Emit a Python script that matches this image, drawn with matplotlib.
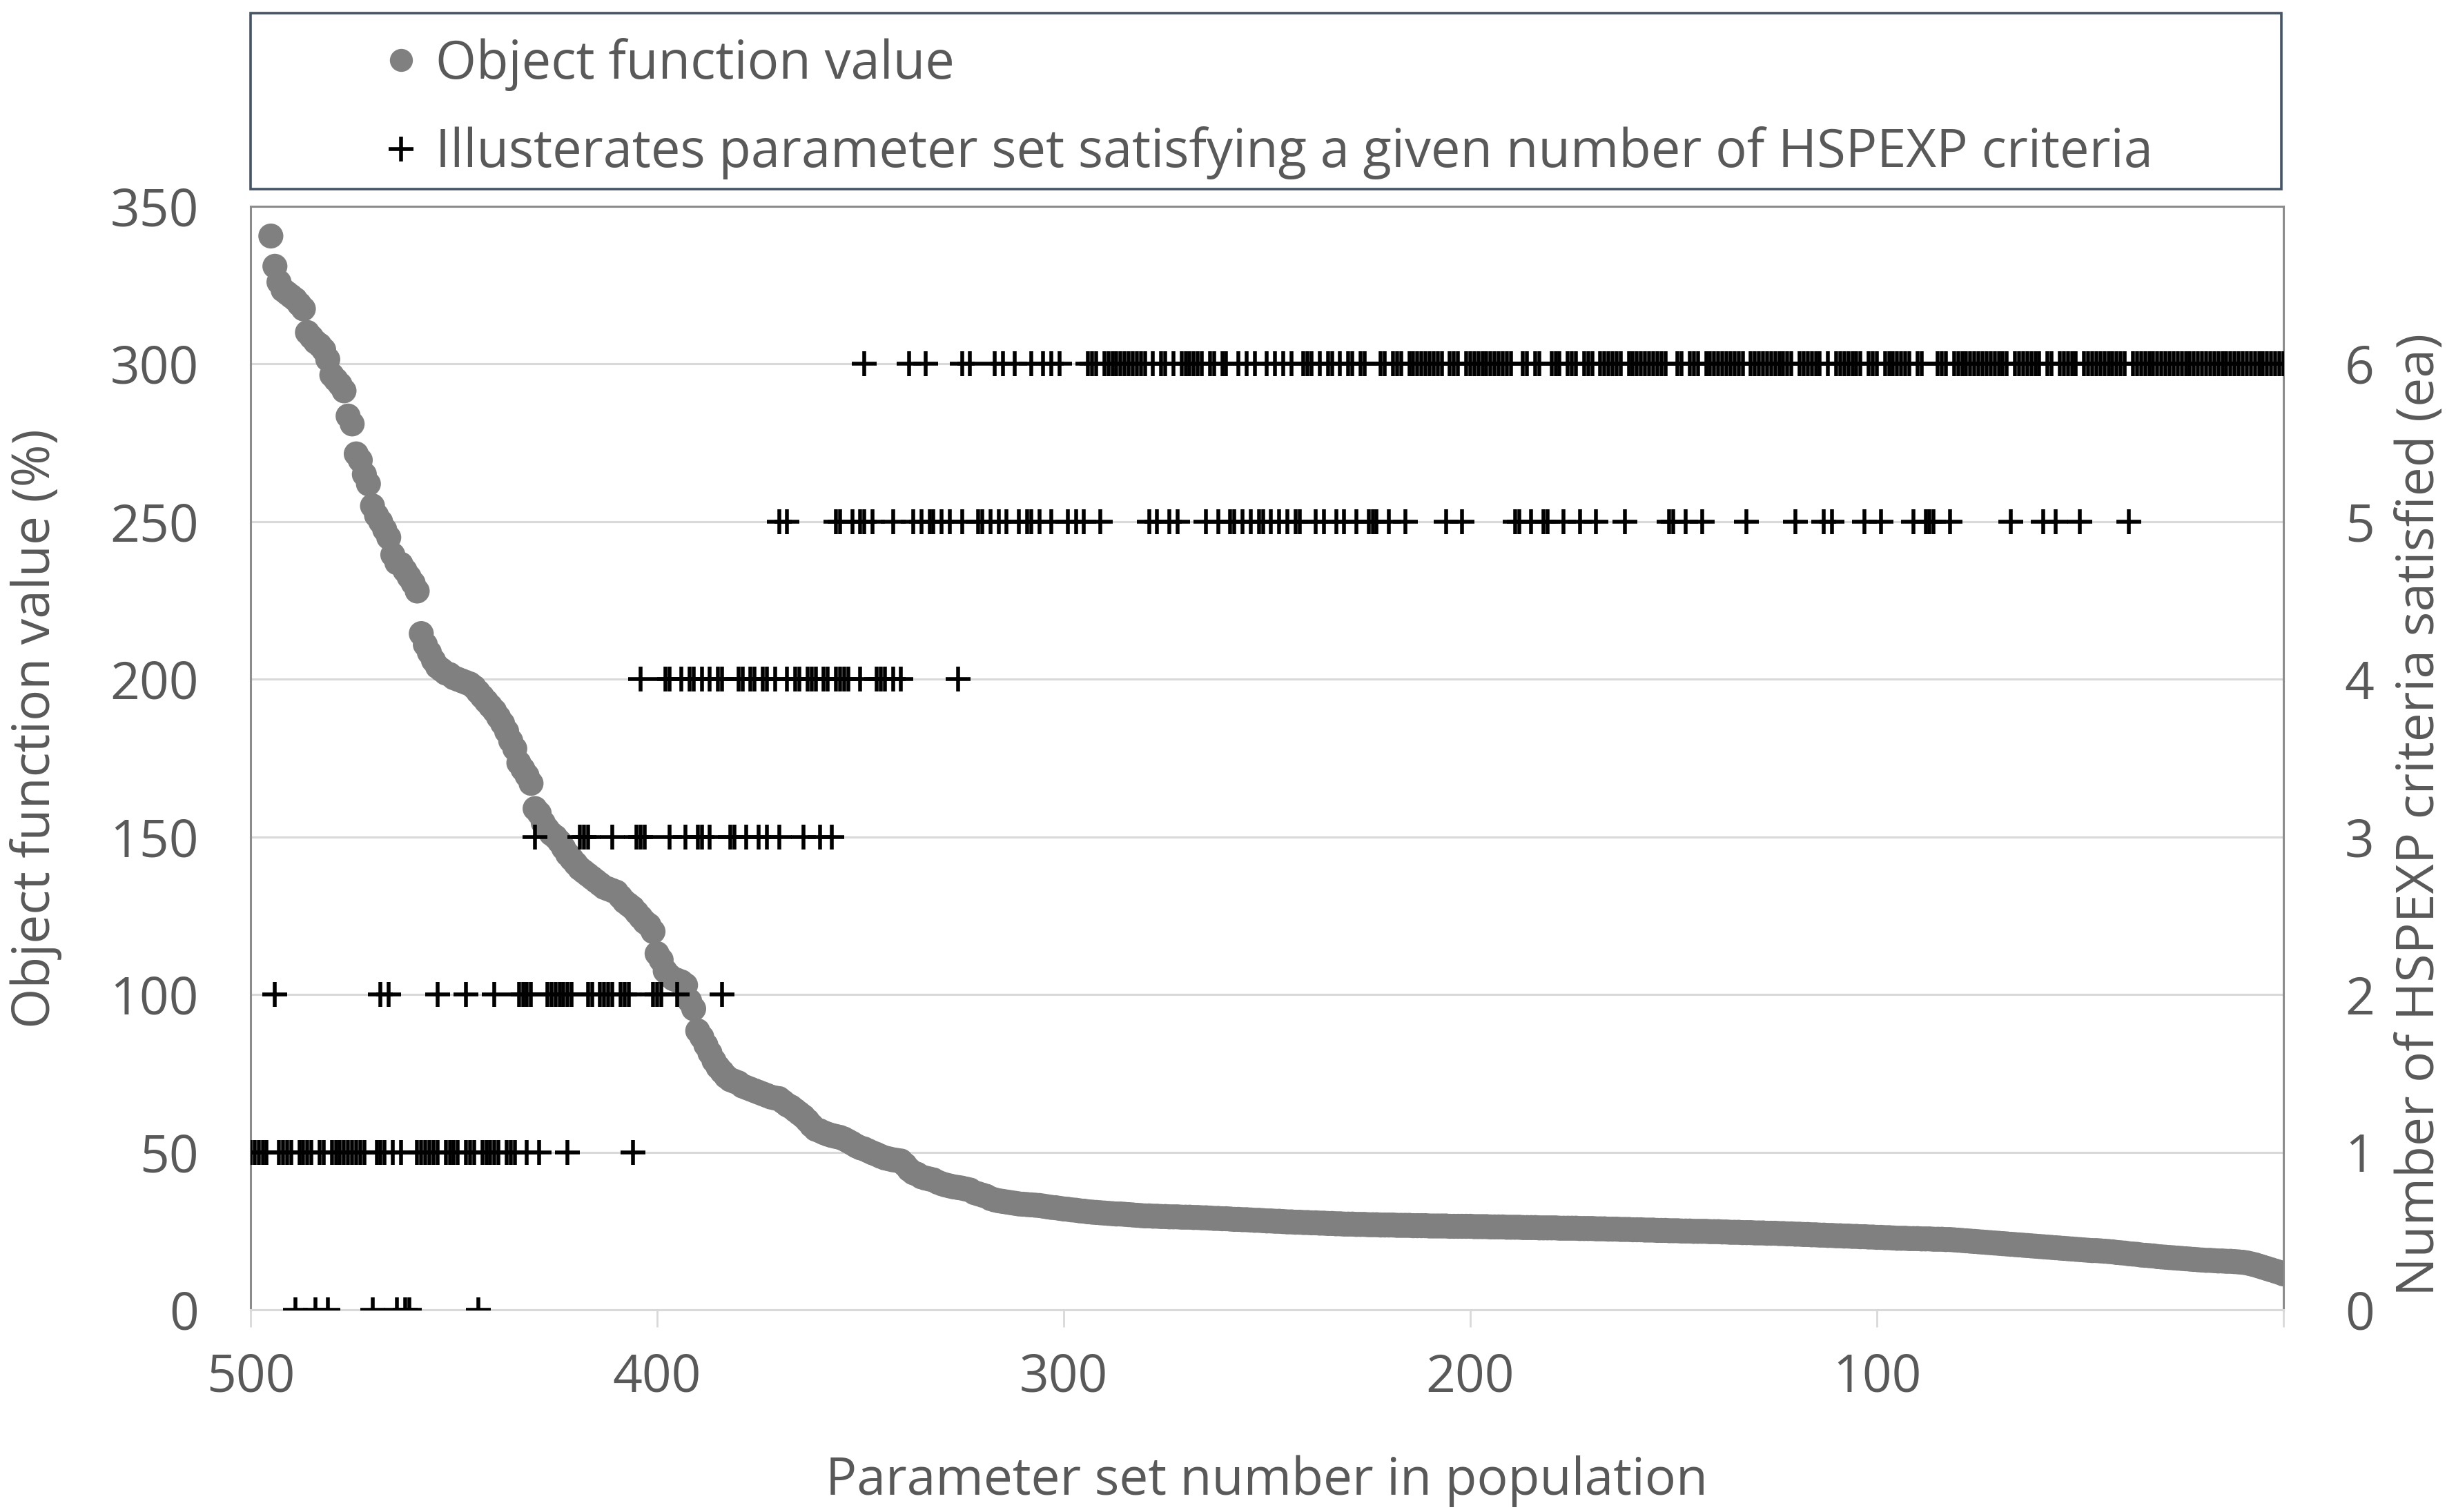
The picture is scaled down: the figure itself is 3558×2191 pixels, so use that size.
import numpy as np
import matplotlib
matplotlib.use("Agg")
import matplotlib.pyplot as plt
from matplotlib.lines import Line2D
from matplotlib.patches import Rectangle

plt.rcParams['font.family'] = ['Open Sans', 'DejaVu Sans']

# parameter set numbers, from 495 down to 0, and their object function values (%)
set_number = np.arange(495, -1, -1)
object_value = [
    340.6, 331.0, 326.0, 323.5, 322.5, 321.5, 320.5, 319.0, 317.5, 310.0,
    308.5, 307.0, 306.0, 304.5, 301.5, 296.5, 295.0, 293.5, 291.5, 283.5,
    281.0, 271.5, 269.5, 265.0, 262.0, 255.0, 252.0, 250.0, 247.5, 245.0,
    239.5, 237.0, 236.5, 234.5, 232.5, 230.5, 228.0, 214.5, 211.0, 208.5,
    206.0, 204.0, 203.0, 202.0, 201.5, 200.5, 200.0, 199.5, 199.0, 198.5,
    197.5, 196.0, 194.5, 193.0, 191.5, 190.0, 188.0, 186.0, 183.5, 180.5,
    178.0, 173.5, 171.5, 169.5, 167.0, 159.0, 157.5, 154.5, 152.5, 151.0,
    150.0, 148.5, 146.5, 144.5, 143.0, 141.5, 140.0, 139.0, 138.0, 137.0,
    136.0, 135.0, 134.0, 133.5, 133.0, 132.5, 131.0, 129.5, 128.5, 127.5,
    126.0, 124.5, 123.0, 122.0, 120.0, 113.0, 111.0, 107.5, 106.0, 105.0,
    104.5, 104.0, 103.0, 98.0, 95.5, 88.5, 86.5, 84.0, 81.5, 79.0,
    77.0, 75.5, 74.0, 73.0, 72.5, 72.0, 71.0, 70.5, 70.0, 69.5,
    69.0, 68.5, 68.0, 67.5, 67.2, 67.0, 66.0, 65.0, 64.3, 63.3,
    62.3, 61.3, 60.0, 58.5, 57.3, 56.8, 56.2, 55.7, 55.3, 55.0,
    54.7, 54.2, 53.5, 52.8, 52.0, 51.4, 51.0, 50.4, 49.8, 49.3,
    48.7, 48.2, 47.9, 47.6, 47.4, 47.2, 46.0, 44.5, 43.5, 43.0,
    42.2, 41.8, 41.5, 41.2, 40.5, 40.0, 39.6, 39.3, 39.0, 38.8,
    38.6, 38.3, 38.0, 37.2, 36.8, 36.4, 36.0, 35.3, 34.9, 34.6,
    34.4, 34.2, 34.0, 33.8, 33.6, 33.5, 33.4, 33.3, 33.2, 33.1,
    32.9, 32.7, 32.5, 32.4, 32.2, 32.0, 31.9, 31.7, 31.6, 31.4,
    31.3, 31.1, 31.0, 30.9, 30.8, 30.7, 30.6, 30.5, 30.4, 30.4,
    30.3, 30.2, 30.1, 30.0, 29.9, 29.8, 29.8, 29.7, 29.7, 29.6,
    29.6, 29.5, 29.5, 29.5, 29.4, 29.4, 29.4, 29.3, 29.3, 29.2,
    29.2, 29.1, 29.0, 29.0, 28.9, 28.9, 28.8, 28.7, 28.7, 28.6,
    28.6, 28.5, 28.4, 28.4, 28.3, 28.2, 28.2, 28.1, 28.1, 28.0,
    27.9, 27.9, 27.8, 27.8, 27.7, 27.7, 27.6, 27.6, 27.5, 27.5,
    27.4, 27.4, 27.3, 27.3, 27.2, 27.2, 27.2, 27.1, 27.1, 27.1,
    27.0, 27.0, 27.0, 26.9, 26.9, 26.9, 26.9, 26.8, 26.8, 26.8,
    26.8, 26.7, 26.7, 26.7, 26.7, 26.6, 26.6, 26.6, 26.6, 26.6,
    26.5, 26.5, 26.5, 26.5, 26.5, 26.5, 26.4, 26.4, 26.4, 26.4,
    26.3, 26.3, 26.3, 26.3, 26.2, 26.2, 26.2, 26.2, 26.1, 26.1,
    26.1, 26.1, 26.0, 26.0, 26.0, 26.0, 26.0, 25.9, 25.9, 25.9,
    25.9, 25.9, 25.8, 25.8, 25.8, 25.8, 25.7, 25.7, 25.7, 25.6,
    25.6, 25.6, 25.5, 25.5, 25.5, 25.4, 25.4, 25.4, 25.3, 25.3,
    25.3, 25.2, 25.2, 25.2, 25.1, 25.1, 25.1, 25.0, 25.0, 25.0,
    24.9, 24.9, 24.9, 24.9, 24.8, 24.8, 24.8, 24.7, 24.7, 24.6,
    24.6, 24.6, 24.5, 24.5, 24.5, 24.4, 24.4, 24.4, 24.3, 24.3,
    24.3, 24.2, 24.2, 24.1, 24.1, 24.0, 24.0, 23.9, 23.9, 23.8,
    23.8, 23.7, 23.7, 23.6, 23.6, 23.5, 23.5, 23.4, 23.4, 23.3,
    23.3, 23.2, 23.2, 23.1, 23.1, 23.0, 23.0, 22.9, 22.9, 22.8,
    22.7, 22.7, 22.7, 22.6, 22.6, 22.6, 22.5, 22.5, 22.5, 22.4,
    22.4, 22.4, 22.3, 22.3, 22.2, 22.1, 22.0, 21.9, 21.8, 21.7,
    21.6, 21.5, 21.4, 21.3, 21.2, 21.1, 21.0, 20.9, 20.8, 20.7,
    20.6, 20.5, 20.4, 20.3, 20.2, 20.1, 20.0, 19.9, 19.8, 19.7,
    19.6, 19.5, 19.4, 19.3, 19.2, 19.1, 19.0, 18.9, 18.8, 18.8,
    18.7, 18.6, 18.5, 18.4, 18.2, 18.1, 18.0, 17.8, 17.7, 17.6,
    17.4, 17.3, 17.2, 17.1, 16.9, 16.8, 16.7, 16.6, 16.5, 16.4,
    16.3, 16.2, 16.1, 16.0, 15.9, 15.8, 15.7, 15.7, 15.6, 15.5,
    15.5, 15.4, 15.4, 15.3, 15.2, 15.1, 14.9, 14.6, 14.3, 13.9,
    13.5, 13.1, 12.7, 12.3, 11.9, 11.4,
]

# parameter sets that satisfy a given number of HSPEXP criteria
crit0 = [489, 484, 481, 470, 464, 462, 461, 444]
crit1 = [500, 499, 498, 497, 496, 493, 492, 491, 490, 488, 487, 486, 485, 483,
         482, 480, 479, 478, 477, 476, 475, 474, 473, 472, 469, 468, 467, 465,
         463, 459, 458, 457, 456, 455, 454, 452, 451, 450, 449, 447, 446, 445,
         443, 442, 441, 440, 439, 437, 436, 435, 432, 429, 422, 406]
crit2 = [494, 468, 466, 454, 447, 440, 434, 433, 432, 431, 427, 426, 425, 424,
         423, 422, 421, 417, 416, 414, 413, 412, 411, 409, 408, 407, 401, 400,
         399, 395, 384]
crit3 = [430, 419, 418, 417, 411, 405, 404, 403, 397, 393, 390, 389, 387, 382,
         381, 378, 375, 373, 370, 364, 360, 357]
crit4 = [404, 398, 397, 394, 392, 391, 389, 387, 385, 384, 380, 379, 377, 376,
         374, 373, 371, 368, 366, 365, 363, 362, 361, 359, 358, 356, 355, 354,
         353, 350, 346, 345, 344, 342, 340, 326]
crit5 = [370, 368, 356, 355, 352, 350, 349, 347, 342, 337, 335, 333, 332, 330,
         328, 325, 321, 320, 318, 316, 314, 311, 309, 308, 306, 303, 299, 297,
         295, 291, 279, 277, 274, 272, 265, 262, 259, 258, 256, 254, 252, 251,
         249, 247, 245, 243, 242, 238, 236, 233, 231, 228, 225, 224, 223, 220,
         216, 206, 202, 189, 188, 185, 182, 181, 177, 173, 169, 162, 151, 150,
         147, 143, 132, 120, 113, 111, 103, 99, 91, 88, 87, 86, 82, 67, 59, 56,
         50, 38]
crit6_sparse = [349, 338, 334, 325, 323, 317, 315, 312, 308, 305, 303, 301]
# every set from 294 down to 0 that is not at 5 criteria satisfies all 6
crit6 = crit6_sparse + [n for n in range(294, -1, -1) if n not in crit5]

levels = [crit0, crit1, crit2, crit3, crit4, crit5, crit6]

txt = '#595959'
grid_c = '#D9D9D9'
frame_c = '#8C8C8C'

fig = plt.figure(figsize=(17.79, 10.955), dpi=200)
ax = fig.add_axes([0.102, 0.1337, 0.8277, 0.7298])
ax2 = ax.twinx()

ax.scatter(set_number, object_value, s=170, color='#808080', edgecolors='none',
           zorder=3)
for k, sets in enumerate(levels):
    ax2.plot(sets, [k] * len(sets), linestyle='none', marker='+', color='black',
             markersize=13, markeredgewidth=2.0)

ax.set_xlim(500, 0)
ax.set_ylim(0, 350)
ax2.set_ylim(0, 7)
ax.set_yticks(range(0, 351, 50))
ax2.set_yticks(range(0, 7))
ax.set_xticks([500, 400, 300, 200, 100, 0])
ax.set_xticklabels(['500', '400', '300', '200', '100', ''])

ax.grid(axis='y', color=grid_c, linewidth=1.1)
ax.set_axisbelow(True)

ax.tick_params(axis='x', direction='out', length=9, width=1.0, color=grid_c,
               labelsize=27, labelcolor=txt, pad=13)
ax.tick_params(axis='y', length=0, labelsize=27, labelcolor=txt, pad=27)
ax2.tick_params(axis='y', length=0, labelsize=27, labelcolor=txt, pad=32)

for side in ['top', 'left', 'right']:
    ax.spines[side].set_color(frame_c)
    ax.spines[side].set_linewidth(1.1)
ax.spines['bottom'].set_color(grid_c)
ax.spines['bottom'].set_linewidth(1.1)
for side in ax2.spines:
    ax2.spines[side].set_visible(False)

ax.set_ylabel('Object function value (%)', fontsize=27, color=txt, va='center')
ax.yaxis.set_label_coords(-0.1056, 0.5266)
ax2.set_ylabel('Number of HSPEXP criteria satisfied (ea)', fontsize=27,
               color=txt, rotation=90, va='center')
ax2.yaxis.set_label_coords(1.0676, 0.449)
ax.set_xlabel('Parameter set number in population', fontsize=27, color=txt,
              va='center')
ax.xaxis.set_label_coords(0.5, -0.155)

# legend box above the plot
fig.patches.append(Rectangle((0.102, 0.8749), 0.8269, 0.1164,
                             transform=fig.transFigure, fill=False,
                             edgecolor='#44546A', linewidth=1.3))
handles = [
    Line2D([], [], linestyle='none', marker='o', markersize=12,
           color='#808080', markeredgecolor='none'),
    Line2D([], [], linestyle='none', marker='+', markersize=13,
           color='black', markeredgewidth=2.0),
]
leg = fig.legend(handles, ['Object function value',
                           'Illusterates parameter set satisfying a given number of HSPEXP criteria'],
                 loc='upper left', bbox_to_anchor=(0.157, 0.975),
                 frameon=False, fontsize=27.3, handlelength=0.6,
                 handletextpad=0.35, borderpad=0, borderaxespad=0,
                 labelspacing=0.68)
for t in leg.get_texts():
    t.set_color(txt)

fig.savefig('out.png', dpi=200)
